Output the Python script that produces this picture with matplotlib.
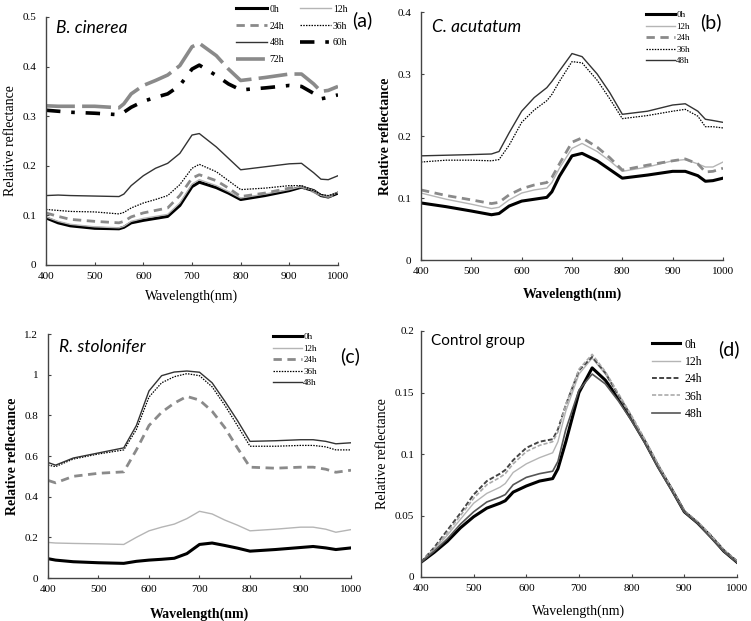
import matplotlib.pyplot as plt

# ---- data ----
wl_a = [400, 425, 450, 500, 550, 560, 575, 600, 625, 650, 675, 700, 715, 750, 775, 800, 850, 900, 925, 950, 965, 980, 1000]
a_0h = [0.095, 0.085, 0.079, 0.074, 0.073, 0.076, 0.085, 0.090, 0.094, 0.098, 0.120, 0.158, 0.167, 0.156, 0.145, 0.132, 0.140, 0.150, 0.157, 0.150, 0.140, 0.137, 0.145]
a_12h = [0.097, 0.088, 0.082, 0.077, 0.075, 0.078, 0.088, 0.094, 0.098, 0.102, 0.125, 0.163, 0.172, 0.160, 0.148, 0.135, 0.143, 0.152, 0.158, 0.150, 0.140, 0.138, 0.146]
a_24h = [0.105, 0.098, 0.092, 0.088, 0.085, 0.088, 0.097, 0.105, 0.110, 0.115, 0.140, 0.175, 0.182, 0.170, 0.155, 0.138, 0.145, 0.155, 0.158, 0.148, 0.140, 0.138, 0.143]
a_36h = [0.112, 0.110, 0.108, 0.107, 0.103, 0.106, 0.115, 0.125, 0.132, 0.140, 0.162, 0.195, 0.203, 0.188, 0.170, 0.152, 0.155, 0.160, 0.160, 0.150, 0.142, 0.140, 0.145]
a_48h = [0.140, 0.141, 0.140, 0.139, 0.138, 0.143, 0.160, 0.180, 0.195, 0.205, 0.225, 0.262, 0.265, 0.238, 0.215, 0.192, 0.198, 0.204, 0.205, 0.186, 0.173, 0.172, 0.180]
a_60h = [0.312, 0.310, 0.308, 0.306, 0.303, 0.308, 0.318, 0.330, 0.338, 0.345, 0.362, 0.395, 0.403, 0.382, 0.365, 0.353, 0.357, 0.362, 0.360, 0.346, 0.335, 0.338, 0.343]
a_72h = [0.321, 0.320, 0.320, 0.320, 0.317, 0.325, 0.345, 0.362, 0.372, 0.383, 0.402, 0.440, 0.447, 0.422, 0.395, 0.372, 0.378, 0.385, 0.385, 0.365, 0.350, 0.352, 0.360]

wl_b = [400, 450, 500, 540, 555, 575, 600, 625, 650, 660, 675, 700, 720, 750, 775, 800, 850, 900, 925, 950, 965, 980, 1000]
b_0h = [0.092, 0.086, 0.079, 0.073, 0.075, 0.087, 0.095, 0.098, 0.101, 0.110, 0.135, 0.168, 0.172, 0.160, 0.146, 0.132, 0.137, 0.143, 0.143, 0.136, 0.127, 0.128, 0.132]
b_12h = [0.108, 0.098, 0.090, 0.083, 0.085, 0.097, 0.108, 0.113, 0.116, 0.125, 0.148, 0.180, 0.188, 0.175, 0.160, 0.143, 0.150, 0.160, 0.162, 0.155, 0.150, 0.150, 0.158]
b_24h = [0.113, 0.104, 0.097, 0.091, 0.093, 0.105, 0.115, 0.121, 0.125, 0.133, 0.155, 0.190, 0.197, 0.182, 0.165, 0.145, 0.153, 0.160, 0.163, 0.155, 0.142, 0.143, 0.148]
b_36h = [0.158, 0.161, 0.161, 0.160, 0.162, 0.185, 0.222, 0.242, 0.257, 0.267, 0.288, 0.320, 0.318, 0.290, 0.260, 0.228, 0.233, 0.240, 0.243, 0.232, 0.215, 0.215, 0.213]
b_48h = [0.168, 0.169, 0.170, 0.171, 0.175, 0.205, 0.240, 0.262, 0.278, 0.288, 0.305, 0.333, 0.328, 0.300, 0.270, 0.235, 0.240, 0.250, 0.252, 0.240, 0.227, 0.225, 0.222]

wl_c = [400, 415, 450, 500, 550, 575, 600, 625, 650, 675, 700, 725, 750, 775, 800, 850, 900, 925, 950, 970, 1000]
c_0h = [0.095, 0.088, 0.080, 0.075, 0.072, 0.082, 0.088, 0.092, 0.097, 0.120, 0.165, 0.172, 0.160, 0.147, 0.132, 0.140, 0.150, 0.155, 0.148, 0.140, 0.148]
c_12h = [0.175, 0.172, 0.170, 0.168, 0.165, 0.200, 0.232, 0.250, 0.265, 0.292, 0.328, 0.315, 0.285, 0.260, 0.232, 0.240, 0.250, 0.250, 0.240, 0.225, 0.238]
c_24h = [0.480, 0.468, 0.500, 0.515, 0.522, 0.630, 0.750, 0.815, 0.860, 0.893, 0.875, 0.820, 0.740, 0.640, 0.545, 0.540, 0.545, 0.545, 0.535, 0.520, 0.530]
c_36h = [0.555, 0.548, 0.585, 0.610, 0.630, 0.730, 0.890, 0.960, 0.990, 1.005, 0.995, 0.940, 0.850, 0.750, 0.648, 0.648, 0.652, 0.652, 0.645, 0.630, 0.630]
c_48h = [0.568, 0.555, 0.590, 0.615, 0.640, 0.750, 0.920, 0.995, 1.013, 1.018, 1.012, 0.960, 0.870, 0.775, 0.672, 0.675, 0.680, 0.680, 0.672, 0.660, 0.665]

wl_d = [400, 425, 450, 475, 500, 525, 550, 560, 575, 600, 625, 650, 660, 675, 700, 725, 750, 775, 800, 825, 850, 875, 900, 925, 950, 975, 1000]
d_0h = [0.012, 0.020, 0.029, 0.040, 0.049, 0.056, 0.060, 0.062, 0.069, 0.074, 0.078, 0.080, 0.088, 0.110, 0.150, 0.170, 0.160, 0.145, 0.128, 0.110, 0.090, 0.072, 0.053, 0.044, 0.033, 0.021, 0.012]
d_12h = [0.012, 0.022, 0.034, 0.047, 0.060, 0.068, 0.073, 0.076, 0.085, 0.092, 0.097, 0.101, 0.110, 0.135, 0.165, 0.178, 0.165, 0.147, 0.130, 0.111, 0.091, 0.072, 0.053, 0.044, 0.033, 0.021, 0.012]
d_24h = [0.012, 0.024, 0.038, 0.052, 0.067, 0.078, 0.084, 0.087, 0.095, 0.105, 0.110, 0.112, 0.120, 0.140, 0.168, 0.179, 0.166, 0.148, 0.130, 0.111, 0.091, 0.072, 0.053, 0.044, 0.034, 0.022, 0.013]
d_36h = [0.012, 0.023, 0.036, 0.050, 0.064, 0.075, 0.081, 0.084, 0.092, 0.102, 0.107, 0.110, 0.118, 0.140, 0.169, 0.181, 0.167, 0.149, 0.131, 0.112, 0.092, 0.073, 0.054, 0.045, 0.034, 0.022, 0.013]
d_48h = [0.012, 0.021, 0.031, 0.043, 0.053, 0.061, 0.065, 0.067, 0.075, 0.081, 0.084, 0.086, 0.094, 0.120, 0.152, 0.165, 0.157, 0.143, 0.127, 0.109, 0.089, 0.071, 0.053, 0.044, 0.032, 0.021, 0.012]

labels = ['0h', '12h', '24h', '36h', '48h', '60h', '72h']

# line styles per time point
styles = {
    '0h': dict(color='black', lw=2.2, ls='-'),
    '12h': dict(color='#b5b5b5', lw=1.0, ls='-'),
    '24h': dict(color='#8a8a8a', lw=2.0, ls=(0, (3, 2))),
    '36h': dict(color='black', lw=0.9, ls=(0, (1.2, 1))),
    '48h': dict(color='#333333', lw=1.0, ls='-'),
    '60h': dict(color='black', lw=2.6, ls=(0, (4, 3, 1, 3))),
    '72h': dict(color='#8a8a8a', lw=2.6, ls=(0, (8, 2))),
}

plt.rcParams['font.family'] = 'Liberation Serif'
fig = plt.figure(figsize=(7.51, 6.21), dpi=100)
W, H = 751, 621


def make_ax(l, r, t, b, ymax, ystep, ypad):
    ax = fig.add_axes([l / W, 1 - b / H, (r - l) / W, (b - t) / H])
    ax.set_xlim(400, 1000)
    ax.set_ylim(0, ymax)
    ax.set_xticks(range(400, 1001, 100))
    yt = [round(i * ystep, 3) for i in range(int(round(ymax / ystep)) + 1)]
    ax.set_yticks(yt)
    ax.set_yticklabels(['%g' % v for v in yt])
    for s in ['top', 'right']:
        ax.spines[s].set_visible(False)
    for s in ['left', 'bottom']:
        ax.spines[s].set_color('#444444')
        ax.spines[s].set_linewidth(1.0)
    ax.tick_params(direction='in', length=2.5, labelsize=8, color='#444444', pad=5)
    ax.tick_params(axis='y', pad=ypad)
    return ax


def panel_text(ax, title, tag, tx, ty, gx, gy, bold, xpad, tsize=12.5, italic=True):
    fig.text(tx / W, 1 - ty / H, title, family='Lato', style='italic' if italic else 'normal',
             fontsize=tsize, va='center', ha='left')
    fig.text(gx / W, 1 - gy / H, tag, family='Lato', fontsize=14, va='center', ha='left')
    ax.set_xlabel('Wavelength(nm)', fontsize=10, fontweight='bold' if bold else 'normal', labelpad=xpad)
    ax.set_ylabel('Relative reflectance', fontsize=10, fontweight='bold' if bold else 'normal', labelpad=4)


# (a) B. cinerea
ax = make_ax(46, 338, 17, 265, 0.5, 0.1, 7)
series_a = [a_0h, a_12h, a_24h, a_36h, a_48h, a_60h, a_72h]
hs = []
for lab, y in zip(labels, series_a):
    h, = ax.plot(wl_a, y, label=lab, **styles[lab])
    hs.append(h)
order = [0, 2, 4, 6, 1, 3, 5]
ax.legend([hs[i] for i in order], [labels[i] for i in order], ncol=2, frameon=False,
          fontsize=7, handlelength=3.2, handletextpad=0.2, columnspacing=1.6, labelspacing=0.8,
          loc='upper right', bbox_to_anchor=(356 / W, 1 + 4 / H), bbox_transform=fig.transFigure)
panel_text(ax, 'B. cinerea', '(a)', 56, 28, 352, 20, False, 6)

# (b) C. acutatum
ax = make_ax(421, 723, 12, 260, 0.4, 0.1, 7)
for lab, y in zip(labels[:5], [b_0h, b_12h, b_24h, b_36h, b_48h]):
    ax.plot(wl_b, y, label=lab, **styles[lab])
ax.legend(frameon=False, fontsize=6.5, handlelength=3.2, handletextpad=0.1, labelspacing=0.35,
          loc='upper right', bbox_to_anchor=(698 / W, 1 - 3 / H), bbox_transform=fig.transFigure)
panel_text(ax, 'C. acutatum', '(b)', 432, 27, 700, 22, True, 8)

# (c) R. stolonifer
ax = make_ax(48, 351, 334, 578, 1.2, 0.2, 7)
for lab, y in zip(labels[:5], [c_0h, c_12h, c_24h, c_36h, c_48h]):
    ax.plot(wl_c, y, label=lab, **styles[lab])
ax.legend(frameon=False, fontsize=6.5, handlelength=3.2, handletextpad=0.1, labelspacing=0.35,
          loc='upper right', bbox_to_anchor=(325 / W, 1 - 325 / H), bbox_transform=fig.transFigure)
panel_text(ax, 'R. stolonifer', '(c)', 59, 347, 340, 356, True, 10)

# (d) Control group
ax = make_ax(421, 737, 331, 577, 0.2, 0.05, 5)
d_styles = dict(styles)
d_styles['24h'] = dict(color='#444444', lw=1.4, ls=(0, (2.5, 1.2)))
d_styles['36h'] = dict(color='#aaaaaa', lw=1.2, ls=(0, (2.5, 1.2)))
d_styles['48h'] = dict(color='#555555', lw=1.2, ls='-')
for lab, y in zip(labels[:5], [d_0h, d_12h, d_24h, d_36h, d_48h]):
    ax.plot(wl_d, y, label=lab, **d_styles[lab])
ax.legend(frameon=False, fontsize=8.5, handlelength=2.4, handletextpad=0.4, labelspacing=0.45,
          loc='upper right', bbox_to_anchor=(713 / W, 1 - 328 / H), bbox_transform=fig.transFigure)
panel_text(ax, 'Control group', '(d)', 431, 341, 718, 349, False, 8, tsize=11, italic=False)

fig.savefig('out.png', dpi=100)
